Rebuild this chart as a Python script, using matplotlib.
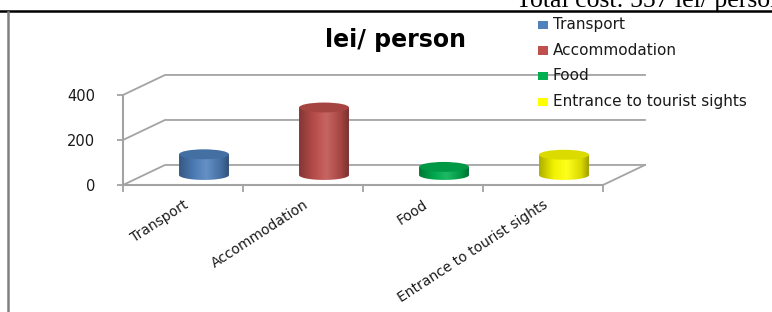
import matplotlib
matplotlib.use("Agg")
import matplotlib.pyplot as plt
import numpy as np
from matplotlib.patches import Ellipse, Rectangle, PathPatch
from matplotlib.path import Path
from matplotlib.lines import Line2D
from matplotlib.colors import LinearSegmentedColormap, to_rgb

# ---------------- data ----------------
categories = ["Transport", "Accommodation", "Food", "Entrance to tourist sights"]
values = [92, 300, 36, 90]
colors = ["#4F81BD", "#C0504D", "#00B050", "#FFFF00"]
yticks = [0, 200, 400]
ytick_labels = ["0", "200", "400"]
title = "lei/ person"
note = "Total cost: 557 lei/ person"

# ---------------- figure ----------------
W, H = 772, 312
fig = plt.figure(figsize=(W / 100, H / 100), dpi=100)
fig.patch.set_facecolor("white")

ax = fig.add_axes([123 / W, (H - 185) / H, 480 / W, 90 / H])
ax.set_facecolor("none")

ncat = len(categories)
depth_x = 0.35      # oblique depth offset (category units)
depth_y = 89.0      # oblique depth offset (value units)
grid_c = "#A3A3A3"

# back wall + side wall gridlines
for v in yticks:
    ax.plot([0, depth_x, ncat + depth_x], [v, v + depth_y, v + depth_y],
            color=grid_c, lw=1.3, clip_on=False, zorder=1)
# floor right edge
ax.plot([ncat, ncat + depth_x], [0, depth_y], color=grid_c, lw=1.3,
        clip_on=False, zorder=1)


def shade(c, f):
    r, g, b = to_rgb(c)
    return (r * f, g * f, b * f)


def lighten(c, f):
    r, g, b = to_rgb(c)
    return (r + (1 - r) * f, g + (1 - g) * f, b + (1 - b) * f)


r = 0.208
b = 22.0
for i, (v, c) in enumerate(zip(values, colors)):
    cx = i + 0.5 + depth_x / 2
    base = depth_y / 2
    top = base + v
    t = np.linspace(np.pi, 2 * np.pi, 60)
    verts = [(cx - r, top), (cx - r, base)]
    verts += [(cx + r * np.cos(a), base + b * np.sin(a)) for a in t]
    verts += [(cx + r, top), (cx - r, top)]
    codes = [Path.MOVETO] + [Path.LINETO] * (len(verts) - 2) + [Path.CLOSEPOLY]
    patch = PathPatch(Path(verts, codes), facecolor="none", edgecolor="none",
                      zorder=3, clip_on=False)
    ax.add_patch(patch)
    cmap = LinearSegmentedColormap.from_list(
        "cyl%d" % i,
        [(0.0, shade(c, 0.68)), (0.3, shade(c, 0.95)), (0.55, lighten(c, 0.12)),
         (0.85, shade(c, 0.85)), (1.0, shade(c, 0.62))])
    im = ax.imshow(np.linspace(0, 1, 256)[None, :], cmap=cmap,
                   extent=(cx - r, cx + r, base - b, top), aspect="auto",
                   origin="lower", zorder=3, interpolation="bilinear")
    im.set_clip_path(patch)
    ax.add_patch(Ellipse((cx, top), 2 * r, 2 * b, facecolor=shade(c, 0.86),
                         edgecolor="none", zorder=4, clip_on=False))

ax.set_xlim(0, ncat)
ax.set_ylim(0, 400)
ax.set_aspect("auto")

for s in ["top", "right"]:
    ax.spines[s].set_visible(False)
for s in ["left", "bottom"]:
    ax.spines[s].set_color(grid_c)
    ax.spines[s].set_linewidth(1.5)

ax.set_yticks(yticks)
ax.set_yticklabels(ytick_labels, fontsize=10.5, color="#1a1a1a")
ax.tick_params(axis="y", direction="out", length=4, width=1.3, color=grid_c, pad=16)

ax.set_xticks(range(ncat + 1))
ax.set_xticklabels([""] * (ncat + 1))
ax.tick_params(axis="x", which="major", direction="out", length=5, width=1.3, color=grid_c)
ax.set_xticks([i + 0.5 for i in range(ncat)], minor=True)
ax.set_xticklabels(categories, minor=True, rotation=33, ha="right",
                   rotation_mode="anchor", fontsize=10, color="#1a1a1a")
ax.tick_params(axis="x", which="minor", length=0, pad=9)

# title
fig.text(395 / W, 1 - 40 / H, title, ha="center", va="center",
         fontsize=17, fontweight="bold", color="black")

# legend
for k, (lab, c) in enumerate(zip(categories, colors)):
    yc = 25 + k * 25.5
    fig.patches.append(Rectangle((538 / W, 1 - (yc + 4) / H), 10 / W, 8 / H,
                                 transform=fig.transFigure, facecolor=c,
                                 edgecolor="none", zorder=5))
    fig.text(553 / W, 1 - yc / H, lab, ha="left", va="center", fontsize=11,
             color="#1a1a1a", zorder=5)

# document frame lines and caption
fig.add_artist(Line2D([0, 1], [1 - 11 / H] * 2, color="black", lw=1.8))
fig.add_artist(Line2D([8 / W] * 2, [0, 1 - 12 / H], color="#808080", lw=1.8))
fig.text(516 / W, 1 - 7 / H, note, family="Liberation Serif", fontsize=18.5,
         va="baseline", ha="left", color="black")

fig.savefig("out.png", dpi=100)
